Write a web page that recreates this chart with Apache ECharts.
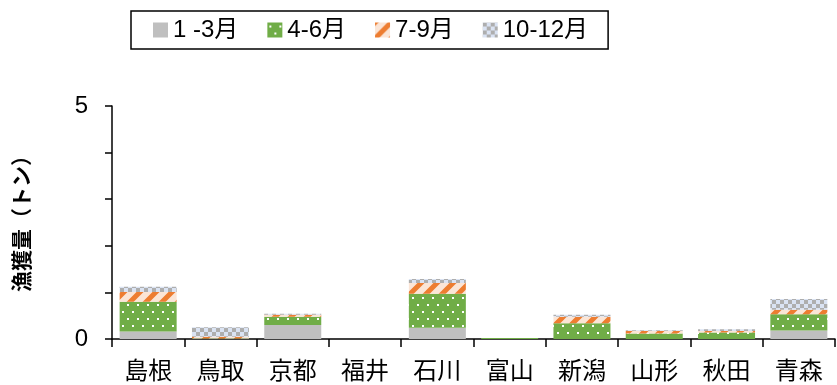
<!DOCTYPE html>
<html>
<head>
<meta charset="utf-8">
<script src="https://cdn.jsdelivr.net/npm/echarts@6/dist/echarts.min.js"></script>
<style>
  html, body { margin: 0; padding: 0; background: #fff; }
  #chart { width: 837px; height: 385px; }
</style>
</head>
<body>
<div id="chart"></div>
<script>
var categories = ['島根', '鳥取', '京都', '福井', '石川', '富山', '新潟', '山形', '秋田', '青森'];
var seriesNames = ['1 -3月', '4-6月', '7-9月', '10-12月'];
var q1 = [0.16, 0, 0.30, 0, 0.24, 0, 0, 0, 0, 0.18];
var q2 = [0.64, 0.01, 0.18, 0, 0.73, 0.02, 0.34, 0.12, 0.14, 0.35];
var q3 = [0.21, 0.04, 0.04, 0, 0.23, 0, 0.14, 0.05, 0.03, 0.10];
var q4 = [0.11, 0.20, 0.02, 0, 0.09, 0, 0.04, 0.02, 0.04, 0.23];

var FONT = '"Liberation Sans", "Noto Sans CJK JP", sans-serif';

// 塗りパターン
function makeTile(w, h, draw) {
    var c = document.createElement('canvas');
    c.width = w;
    c.height = h;
    draw(c.getContext('2d'));
    return c;
}

var dotTile = makeTile(10, 14, function(ctx) {
    ctx.fillStyle = '#70AD47';
    ctx.fillRect(0, 0, 10, 14);
    ctx.fillStyle = '#ffffff';
    ctx.fillRect(2, 3, 2, 2);
    ctx.fillRect(7, 10, 2, 2);
});

var stripeTile = makeTile(16, 16, function(ctx) {
    ctx.fillStyle = '#FBE5D6';
    ctx.fillRect(0, 0, 16, 16);
    ctx.strokeStyle = '#ED7D31';
    ctx.lineWidth = 5;
    ctx.beginPath();
    ctx.moveTo(-4, 20); ctx.lineTo(20, -4);
    ctx.moveTo(-20, 20); ctx.lineTo(4, -4);
    ctx.moveTo(12, 20); ctx.lineTo(36, -4);
    ctx.stroke();
});

var checkTile = makeTile(8, 8, function(ctx) {
    ctx.fillStyle = '#DAE3F3';
    ctx.fillRect(0, 0, 8, 8);
    ctx.fillStyle = '#AEAEAE';
    ctx.fillRect(0, 0, 4, 4);
    ctx.fillRect(4, 4, 4, 4);
});

var fills = [
    '#BFBFBF',
    { image: dotTile, repeat: 'repeat' },
    { image: stripeTile, repeat: 'repeat' },
    { image: checkTile, repeat: 'repeat' }
];
var values = [q1, q2, q3, q4];

var series = [];
for (var i = 0; i < 4; i++) {
    series.push({
        name: seriesNames[i],
        type: 'bar',
        stack: 'total',
        barWidth: 57,
        data: values[i],
        itemStyle: { color: fills[i] }
    });
}

var chart = echarts.init(document.getElementById('chart'));
chart.setOption({
    animation: false,
    textStyle: { fontFamily: FONT },
    legend: {
        left: 131,
        top: 11,
        icon: 'rect',
        itemWidth: 15,
        itemHeight: 15,
        itemGap: 29,
        padding: [7, 20, 7, 22],
        borderColor: '#000',
        borderWidth: 1.5,
        textStyle: { fontSize: 24, color: '#000', fontFamily: FONT },
        data: seriesNames
    },
    grid: { left: 112, right: 2, top: 106, bottom: 46 },
    xAxis: {
        type: 'category',
        data: categories,
        axisLine: { lineStyle: { color: '#000', width: 1.5 } },
        axisTick: { show: true, length: 8, lineStyle: { color: '#000', width: 1.5 } },
        axisLabel: { fontSize: 24, color: '#000', margin: 21, fontFamily: FONT }
    },
    yAxis: {
        type: 'value',
        min: 0,
        max: 5,
        interval: 1,
        name: '漁獲量（トン）',
        nameLocation: 'middle',
        nameGap: 78,
        nameRotate: 90,
        nameTextStyle: { fontSize: 21, color: '#000', fontWeight: 'bold', fontFamily: FONT, padding: [0, 0, 0, 8] },
        splitLine: { show: false },
        axisLine: { show: true, lineStyle: { color: '#000', width: 1.5 } },
        axisTick: { show: true, length: 7, lineStyle: { color: '#000', width: 1.5 } },
        axisLabel: {
            fontSize: 24,
            color: '#000',
            margin: 24,
            fontFamily: FONT,
            formatter: function(v) { return (v === 0 || v === 5) ? String(v) : ''; }
        }
    },
    series: series
});
</script>
</body>
</html>
